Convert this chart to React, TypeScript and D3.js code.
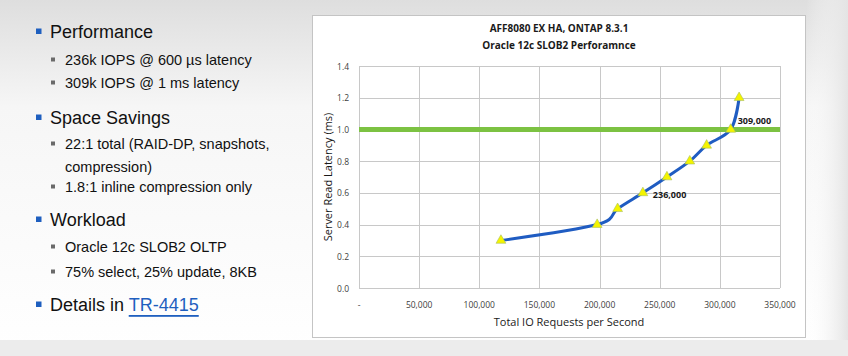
import React from "react";
import * as d3 from "d3";

const iops = [118000, 198000, 215000, 236000, 256000, 275000, 289000, 309000, 316000];
const latency = [0.3, 0.4, 0.5, 0.6, 0.7, 0.8, 0.9, 1.0, 1.2];
const xTicks = [0, 50000, 100000, 150000, 200000, 250000, 300000, 350000];
const yTicks = [0, 0.2, 0.4, 0.6, 0.8, 1.0, 1.2, 1.4];
const thresholdValue = 1.0;
const callouts = [
  { x: 236000, y: 0.6, label: "236,000" },
  { x: 309000, y: 1.0, label: "309,000" },
];
const titleLines = ["AFF8080 EX HA, ONTAP 8.3.1", "Oracle 12c SLOB2 Perforamnce"];

type Bullet = { level: number; text: string; y: number; link?: string };
const bullets: Bullet[] = [
  { level: 0, text: "Performance", y: 32 },
  { level: 1, text: "236k IOPS @ 600 \u00b5s latency", y: 60 },
  { level: 1, text: "309k IOPS @ 1 ms latency", y: 83 },
  { level: 0, text: "Space Savings", y: 118 },
  { level: 1, text: "22:1 total (RAID-DP, snapshots,", y: 144 },
  { level: 2, text: "compression)", y: 167 },
  { level: 1, text: "1.8:1 inline compression only", y: 187 },
  { level: 0, text: "Workload", y: 220 },
  { level: 1, text: "Oracle 12c SLOB2 OLTP", y: 247 },
  { level: 1, text: "75% select, 25% update, 8KB", y: 272 },
  { level: 0, text: "Details in ", y: 305, link: "TR-4415" },
];

export default function App() {
  const W = 848, H = 356;
  const left = 359, right = 780, top = 66, bottom = 288;
  const x = d3.scaleLinear().domain([0, 350000]).range([left, right]);
  const y = d3.scaleLinear().domain([0, 1.4]).range([bottom, top]);
  const pts = iops.map((v, i) => [v, latency[i]] as [number, number]);
  const line = d3
    .line<[number, number]>()
    .x((d) => x(d[0]))
    .y((d) => y(d[1]))
    .curve(d3.curveCatmullRom.alpha(0));
  const tri = d3.symbol().type(d3.symbolTriangle).size(42)();
  const fmt = d3.format(",");
  const chartFont = "'Open Sans', 'Liberation Sans', sans-serif";
  const textFont = "'Liberation Sans', Arial, sans-serif";

  return (
    <svg
      width={W}
      height={H}
      style={{ position: "absolute", left: 0, top: 0, display: "block" }}
    >
      <defs>
        <linearGradient id="bg" x1="0" y1="0" x2="0" y2="1">
          <stop offset="0" stopColor="#dedede" />
          <stop offset="0.3" stopColor="#f6f6f6" />
          <stop offset="1" stopColor="#ffffff" />
        </linearGradient>
        <linearGradient id="rg" x1="0" y1="0" x2="1" y2="0">
          <stop offset="0" stopColor="#ffffff" stopOpacity="0" />
          <stop offset="1" stopColor="#e4e4e4" stopOpacity="1" />
        </linearGradient>
      </defs>
      <rect x={0} y={0} width={W} height={H} fill="url(#bg)" />
      <rect x={806} y={0} width={42} height={340} fill="url(#rg)" />
      <rect x={0} y={340} width={W} height={16} fill="#ececec" />

      {/* left bullets */}
      <g fontFamily={textFont} fill="#111">
        {bullets.map((b, i) => {
          const tx = b.level === 0 ? 50 : 65;
          const fs = b.level === 0 ? 18 : 14.5;
          return (
            <g key={i}>
              {b.level === 0 && (
                <rect x={36} y={b.y - 3.5} width={5.5} height={5.5} fill="#1e5fbf" />
              )}
              {b.level === 1 && (
                <rect x={51} y={b.y - 2.5} width={4} height={4} fill="#6a6a6a" />
              )}
              <text x={tx} y={b.y} dominantBaseline="central" fontSize={fs}>
                {b.text}
                {b.link && (
                  <tspan fill="#1f5fbf" textDecoration="underline">
                    {b.link}
                  </tspan>
                )}
              </text>
            </g>
          );
        })}
      </g>

      {/* chart panel */}
      <rect x={312.5} y={15.5} width={493} height={322} fill="#ffffff" stroke="#c4c4c4" />

      <g fontFamily={chartFont} fill="#1a1a1a">
        {titleLines.map((t, i) => (
          <text
            key={i}
            x={559}
            y={28 + i * 17}
            textAnchor="middle"
            dominantBaseline="central"
            fontSize={10}
            fontWeight="bold"
          >
            {t}
          </text>
        ))}
      </g>

      {/* grid */}
      <g stroke="#c8c8c8" strokeWidth={1}>
        {yTicks.map((t) => (
          <line key={t} x1={left} x2={right} y1={Math.round(y(t)) + 0.5} y2={Math.round(y(t)) + 0.5} />
        ))}
        {xTicks.map((t) => (
          <line key={t} x1={Math.round(x(t)) + 0.5} x2={Math.round(x(t)) + 0.5} y1={top} y2={bottom} />
        ))}
      </g>

      <g fontFamily={chartFont} fontSize={8.5} fill="#404040">
        {yTicks.map((t) => (
          <text key={t} x={left - 10} y={y(t)} textAnchor="end" dominantBaseline="central">
            {t.toFixed(1)}
          </text>
        ))}
        {xTicks.map((t) => (
          <text key={t} x={x(t)} y={bottom + 16} textAnchor="middle" dominantBaseline="central">
            {t === 0 ? "-" : fmt(t)}
          </text>
        ))}
      </g>

      <text
        x={569}
        y={321}
        textAnchor="middle"
        dominantBaseline="central"
        fontFamily={chartFont}
        fontSize={11}
        fill="#1a1a1a"
      >
        Total IO Requests per Second
      </text>
      <text
        transform={`translate(327,${(top + bottom) / 2}) rotate(-90)`}
        textAnchor="middle"
        dominantBaseline="central"
        fontFamily={chartFont}
        fontSize={11}
        fill="#1a1a1a"
      >
        Server Read Latency (ms)
      </text>

      {/* threshold */}
      <line
        x1={left}
        x2={right}
        y1={y(thresholdValue)}
        y2={y(thresholdValue)}
        stroke="#7cc242"
        strokeWidth={5}
      />

      {/* series */}
      <path d={line(pts) || ""} fill="none" stroke="#1f5cc2" strokeWidth={3} strokeLinejoin="round" />
      {pts.map((p, i) => (
        <path
          key={i}
          d={tri || ""}
          transform={`translate(${x(p[0])},${y(p[1])})`}
          fill="#f4f400"
          stroke="#a8c060"
          strokeWidth={0.6}
        />
      ))}

      <g fontFamily={chartFont} fontSize={9} fontWeight="bold" fill="#1a1a1a">
        {callouts.map((c, i) => (
          <text
            key={i}
            x={x(c.x) + (i === 0 ? 10 : 7)}
            y={y(c.y) + (i === 0 ? 2 : -9)}
            dominantBaseline="central"
          >
            {c.label}
          </text>
        ))}
      </g>
    </svg>
  );
}
